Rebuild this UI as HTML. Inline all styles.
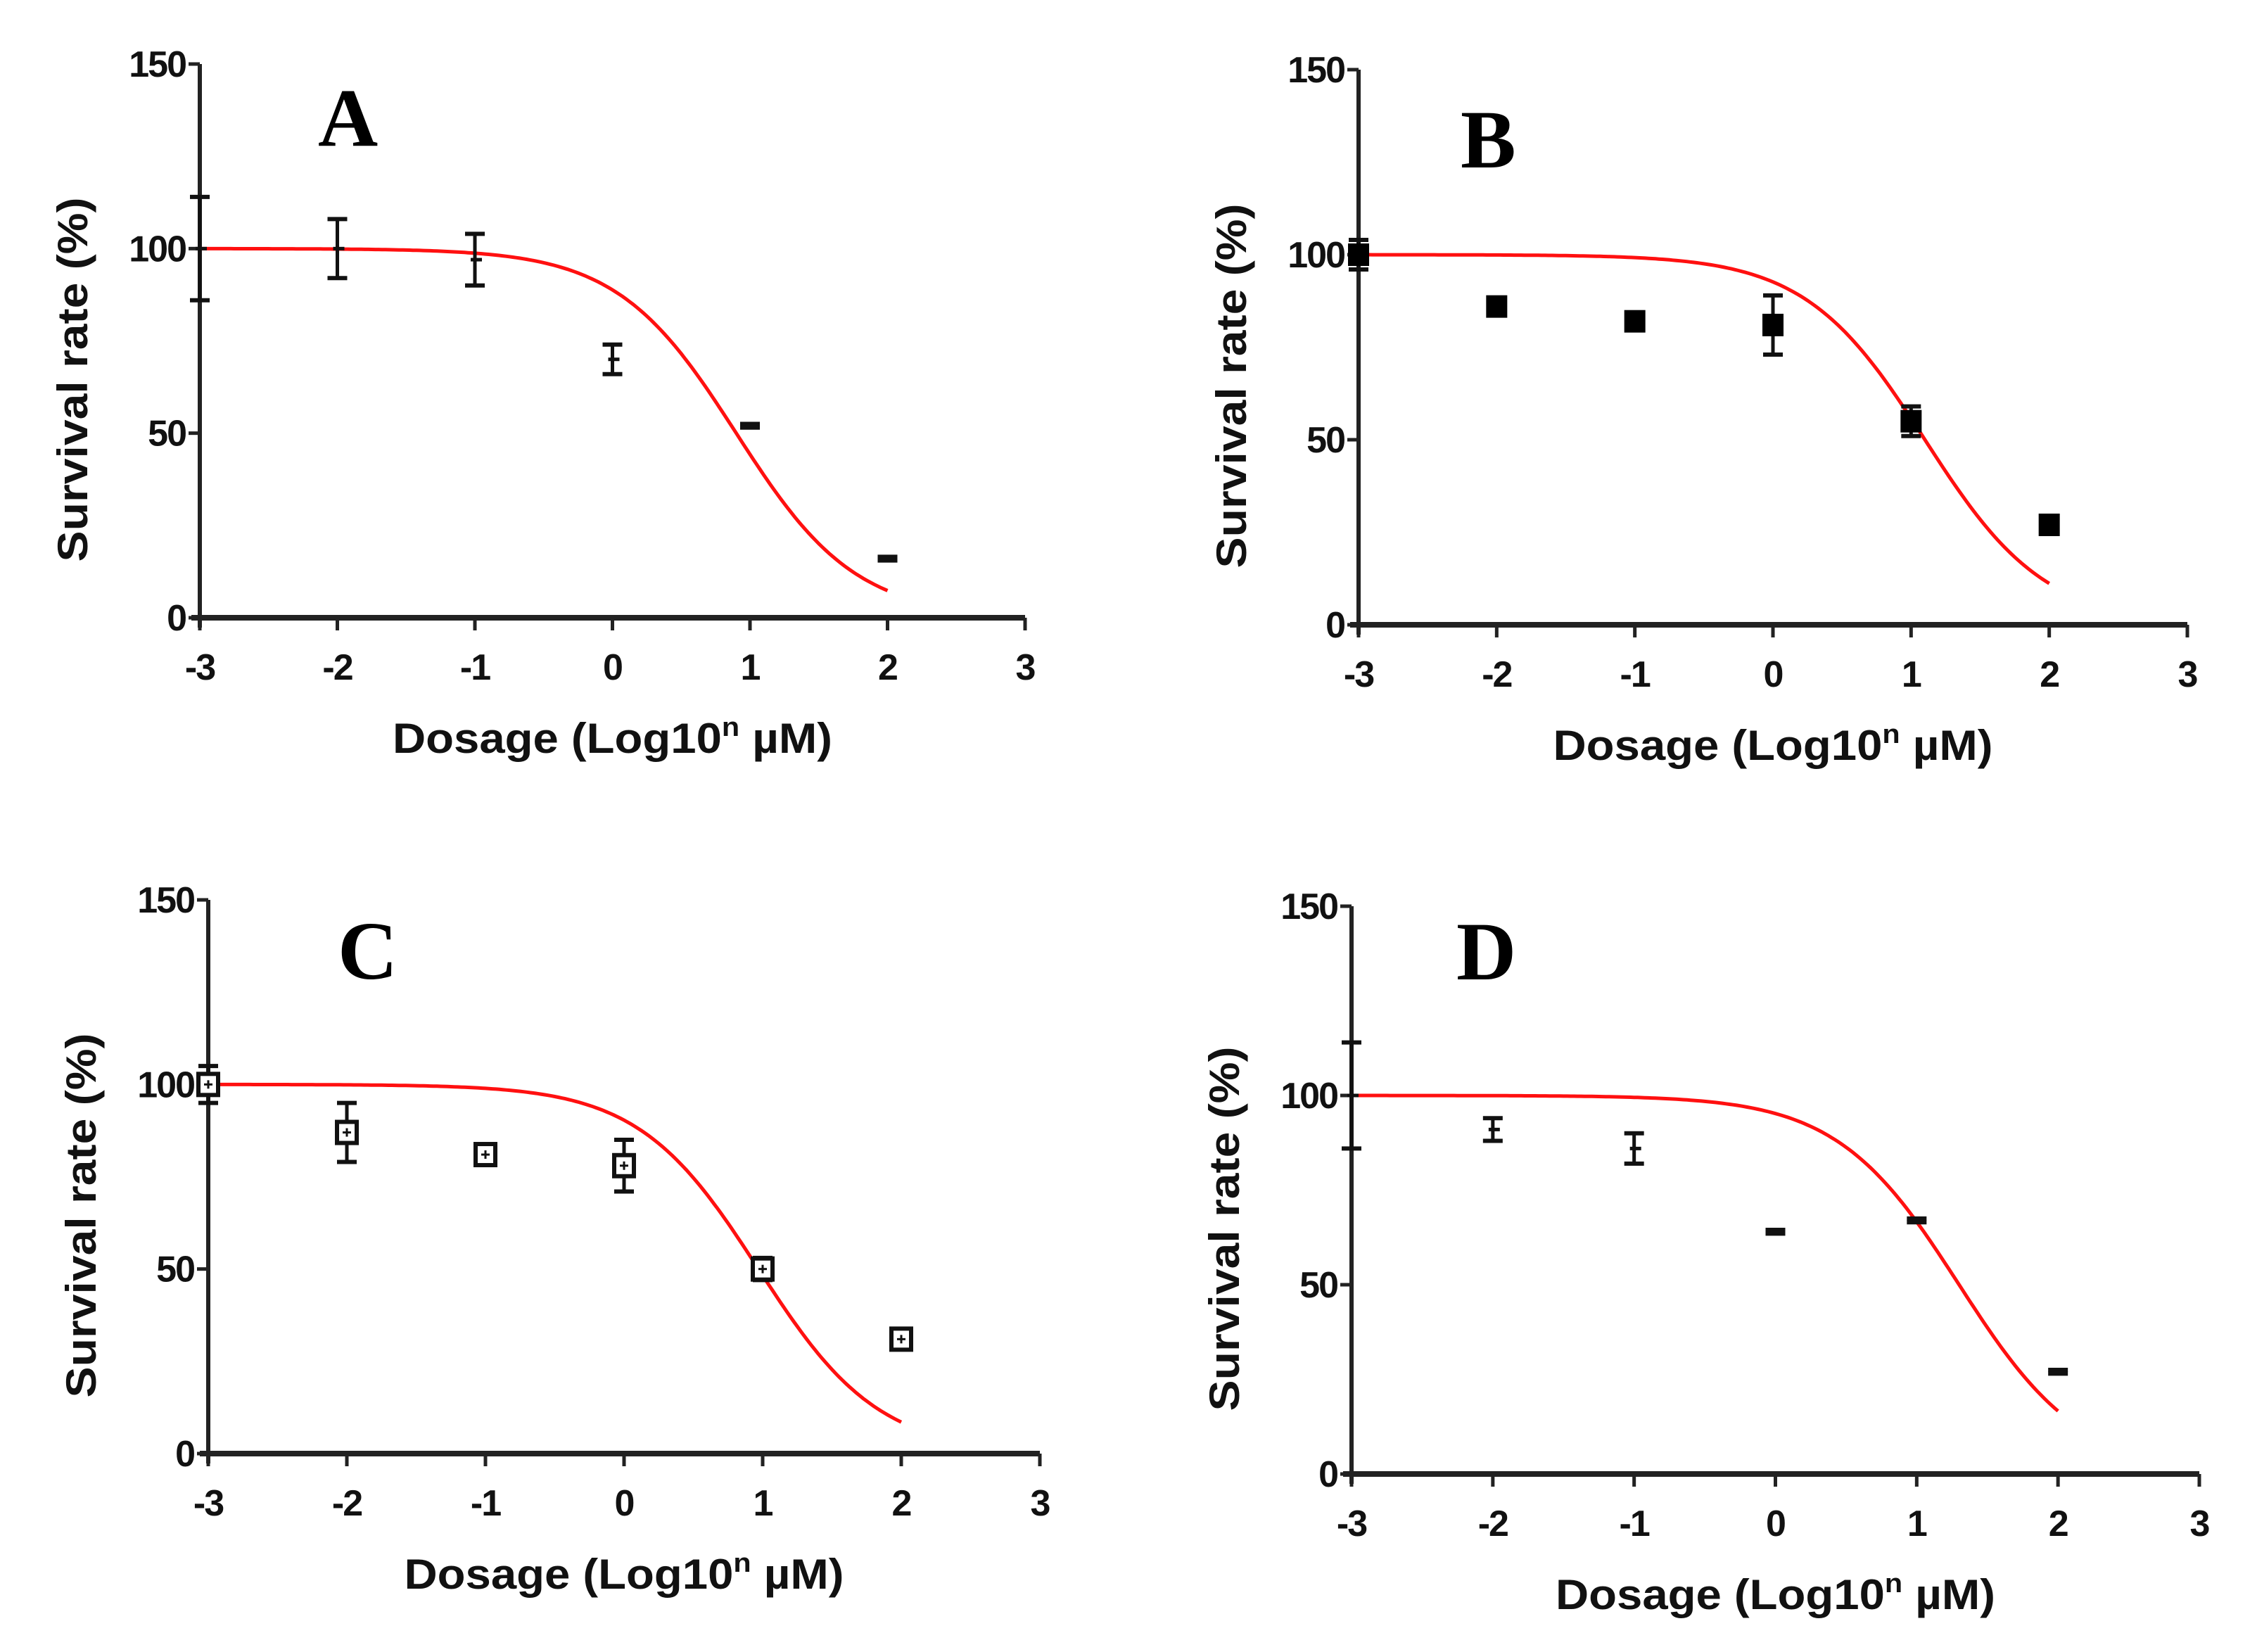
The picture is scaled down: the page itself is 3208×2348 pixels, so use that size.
<!DOCTYPE html>
<html><head><meta charset="utf-8">
<style>
html,body{margin:0;padding:0;background:#fff;}
svg{display:block;}
text{font-family:"Liberation Sans",Arial,sans-serif;font-weight:bold;fill:#111;}
.letter{font-family:"Liberation Serif",serif;font-weight:bold;fill:#000;}
</style></head>
<body>
<svg id="fig" width="3208" height="2348" viewBox="0 0 3208 2348" xmlns="http://www.w3.org/2000/svg"></svg>
<script>
// x categories (log10 dose)
const doseX = [-3, -2, -1, 0, 1, 2];
const xTicks = [-3, -2, -1, 0, 1, 2, 3];
const yTicks = [0, 50, 100, 150];
// panel A
const meanA = [100, 100, 97, 70, 52, 16];
const errA = [14, 8, 7, 4, 0.5, 0.5];
const fitA = [0.9, 1.0]; // logIC50, hill
// panel B
const meanB = [100, 86, 82, 81, 55, 27];
const errB = [4, 1, 2, 8, 4, 2];
const fitB = [1.1, 1.0];
// panel C
const meanC = [100, 87, 81, 78, 50, 31];
const errC = [5, 8, 1, 7, 3, 1];
const fitC = [0.97, 1.0];
// panel D
const meanD = [100, 91, 86, 64, 67, 27];
const errD = [14, 3, 4, 0.5, 0.5, 0.5];
const fitD = [1.3, 1.0];

const NS = "http://www.w3.org/2000/svg";
const svg = document.getElementById('fig');
function mk(tag, attrs, parent){
  const e = document.createElementNS(NS, tag);
  for (const k in attrs) e.setAttribute(k, attrs[k]);
  (parent||svg).appendChild(e);
  return e;
}

const panels = [
  {id:'a', label:'A', ax:284, ay0:878, ay150:91, ax3:1457, mean:meanA, err:errA, fit:fitA, marker:'none', lx:168, ly:116},
  {id:'b', label:'B', ax:1931, ay0:888, ay150:99, ax3:3109, mean:meanB, err:errB, fit:fitB, marker:'filled', lx:145, ly:139},
  {id:'c', label:'C', ax:296, ay0:2066, ay150:1279, ax3:1478, mean:meanC, err:errC, fit:fitC, marker:'open', lx:184, ly:112},
  {id:'d', label:'D', ax:1921, ay0:2095, ay150:1288, ax3:3126, mean:meanD, err:errD, fit:fitD, marker:'none', lx:149, ly:104}
];

panels.forEach(p => {
  const g = mk('g', {});
  
  
  const xs = v => p.ax + (v + 3) / 6 * (p.ax3 - p.ax);
  const ys = v => p.ay0 - v / 150 * (p.ay0 - p.ay150);

  const yAxis = mk('line', {x1:p.ax, y1:p.ay150, x2:p.ax, y2:p.ay0+14, stroke:'#222', 'stroke-width':6}, g);
  
  
  const xAxis = mk('line', {x1:p.ax-12, y1:p.ay0, x2:p.ax3, y2:p.ay0, stroke:'#222', 'stroke-width':8}, g);
  
  

  yTicks.forEach(t => {
    mk('line', {x1:p.ax-16, y1:ys(t), x2:p.ax, y2:ys(t), stroke:'#222', 'stroke-width':5}, g);
    const tl = mk('text', {x:p.ax-20, y:ys(t)+18, 'font-size':52, 'text-anchor':'end', 'letter-spacing':-2}, g);
    tl.textContent = t;
    
    
  });
  xTicks.forEach(t => {
    mk('line', {x1:xs(t), y1:p.ay0, x2:xs(t), y2:p.ay0+18, stroke:'#222', 'stroke-width':5}, g);
    const tl = mk('text', {x:xs(t), y:p.ay0+88, 'font-size':52, 'text-anchor':'middle', 'letter-spacing':-2}, g);
    tl.textContent = t;
    
    
  });

  const yt = mk('text', {x:0, y:0, 'font-size':60, 'text-anchor':'middle', textLength:518, lengthAdjust:'spacingAndGlyphs', transform:`translate(${p.ax-160},${(p.ay0+p.ay150)/2+55}) rotate(-90)`}, g);
  yt.textContent = 'Survival rate (%)';
  
  
  const xt = mk('text', {x:xs(0), y:p.ay0+192, 'font-size':60, 'text-anchor':'middle', textLength:625, lengthAdjust:'spacingAndGlyphs'}, g);
  
  
  xt.appendChild(document.createTextNode('Dosage (Log10'));
  const sup = mk('tspan', {dy:-24, 'font-size':38}, xt);
  sup.textContent = 'n';
  const rest = mk('tspan', {dy:24}, xt);
  rest.textContent = ' \u00B5M)';

  const lt = mk('text', {x:p.ax+p.lx, y:p.ay150+p.ly, 'font-size':118, class:'letter'}, g);
  lt.textContent = p.label;
  
  

  let d = '';
  for (let i = 0; i <= 200; i++) {
    const x = -3 + 5 * i / 200;
    const y = 100 / (1 + Math.pow(10, (x - p.fit[0]) * p.fit[1]));
    d += (i ? 'L' : 'M') + xs(x).toFixed(1) + ' ' + ys(y).toFixed(1);
  }
  const curve = mk('path', {d:d, fill:'none', stroke:'#ff1010', 'stroke-width':5}, g);
  
  

  doseX.forEach((dx, i) => {
    const cx = xs(dx), cy = ys(p.mean[i]);
    const pg = mk('g', {}, g);
    
    
    const top = ys(p.mean[i] + p.err[i]), bot = ys(p.mean[i] - p.err[i]);
    mk('line', {x1:cx, y1:top, x2:cx, y2:bot, stroke:'#111', 'stroke-width':5}, pg);
    mk('line', {x1:cx-14, y1:top, x2:cx+14, y2:top, stroke:'#111', 'stroke-width':6}, pg);
    mk('line', {x1:cx-14, y1:bot, x2:cx+14, y2:bot, stroke:'#111', 'stroke-width':6}, pg);
    if (p.marker === 'filled') {
      mk('rect', {x:cx-15, y:cy-16, width:30, height:32, fill:'#000'}, pg);
    } else if (p.marker === 'open') {
      mk('rect', {x:cx-14, y:cy-15, width:28, height:30, fill:'#fff', stroke:'#111', 'stroke-width':6}, pg);
      mk('line', {x1:cx-6, y1:cy, x2:cx+6, y2:cy, stroke:'#111', 'stroke-width':3}, pg);
      mk('line', {x1:cx, y1:cy-6, x2:cx, y2:cy+6, stroke:'#111', 'stroke-width':3}, pg);
    } else {
      mk('line', {x1:cx-6, y1:cy, x2:cx+10, y2:cy, stroke:'#111', 'stroke-width':5}, pg);
    }
  });
});
</script>
</body></html>
